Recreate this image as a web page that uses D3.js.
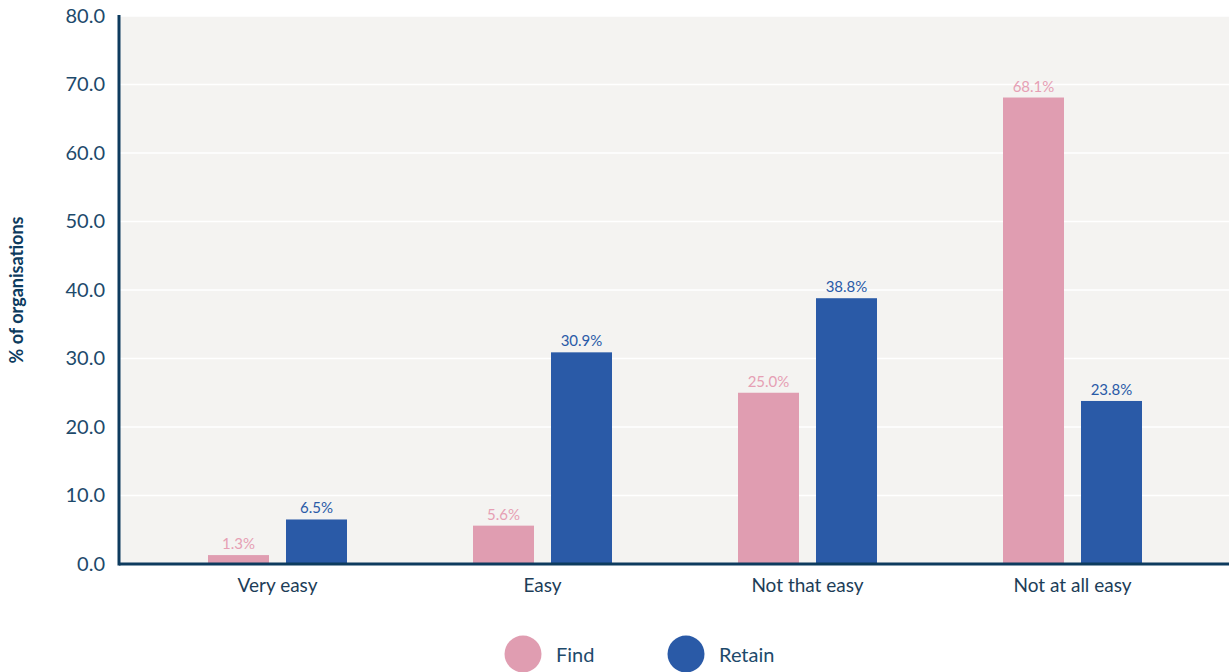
<!DOCTYPE html>
<html>
<head>
<meta charset="utf-8">
<script src="https://cdn.jsdelivr.net/npm/d3@7"></script>
<style>
	body { margin: 0; background: #fff; }
	text { font-family: 'Lato', 'DejaVu Sans', sans-serif; }
</style>
</head>
<body>
<div id="chart"></div>
<script>
var categories  =   ['Very easy', 'Easy', 'Not that easy', 'Not at all easy'];
var series      =   ['Find', 'Retain'];
var find_vals   =   [1.3, 5.6, 25.0, 68.1];
var retain_vals =   [6.5, 30.9, 38.8, 23.8];
var y_ticks     =   [0, 10, 20, 30, 40, 50, 60, 70, 80];
var colors      =   { Find: '#e09db1', Retain: '#2a5aa7' };
var label_colors =  { Find: '#e69fb4', Retain: '#2a5aa7' };

// Create SVG Element
var chart_width     =   1229;
var chart_height    =   672;
var plot_left       =   119;
var plot_top        =   16;
var plot_bottom     =   564;
var svg             =   d3.select( '#chart' )
	.append( 'svg' )
	.attr( 'width', chart_width )
	.attr( 'height', chart_height );

// scales
var x_scale = d3.scaleBand()
	.domain( categories )
	.range([145, 1205])
	.padding(0);

var x_inner = d3.scaleBand()
	.domain( series )
	.range([63, 202])
	.paddingInner(17 / 78)
	.paddingOuter(0);

var y_scale = d3.scaleLinear()
	.domain([0, 80])
	.range([plot_bottom, plot_top]);

// background
svg.append( 'rect' )
	.attr( 'x', plot_left )
	.attr( 'y', plot_top )
	.attr( 'width', chart_width - plot_left )
	.attr( 'height', plot_bottom - plot_top )
	.attr( 'fill', '#f4f3f1' );

// grid lines
svg.selectAll( '.grid' )
	.data( y_ticks.slice(1) )
	.enter()
	.append( 'line' )
	.attr( 'class', 'grid' )
	.attr( 'x1', plot_left )
	.attr( 'x2', chart_width )
	.attr( 'y1', function(d){ return y_scale(d); } )
	.attr( 'y2', function(d){ return y_scale(d); } )
	.attr( 'stroke', '#ffffff' )
	.attr( 'stroke-width', 1.5 );

// bars
var rows = categories.map(function( c, i ){
	return [
		{ cat: c, key: 'Find', value: find_vals[i] },
		{ cat: c, key: 'Retain', value: retain_vals[i] }
	];
});

var groups = svg.selectAll( '.group' )
	.data( rows )
	.enter()
	.append( 'g' )
	.attr( 'class', 'group' )
	.attr( 'transform', function( d ){
		return 'translate(' + x_scale(d[0].cat) + ',0)';
	});

groups.selectAll( 'rect' )
	.data(function( d ){ return d; })
	.enter()
	.append( 'rect' )
	.attr( 'x', function( d ){ return x_inner(d.key); } )
	.attr( 'y', function( d ){ return y_scale(d.value); } )
	.attr( 'width', x_inner.bandwidth() )
	.attr( 'height', function( d ){ return plot_bottom - y_scale(d.value); } )
	.attr( 'fill', function( d ){ return colors[d.key]; } );

groups.selectAll( 'text' )
	.data(function( d ){ return d; })
	.enter()
	.append( 'text' )
	.text(function( d ){ return d.value.toFixed(1) + '%'; })
	.attr( 'x', function( d ){ return x_inner(d.key) + x_inner.bandwidth() / 2; } )
	.attr( 'y', function( d ){ return y_scale(d.value) - 6; } )
	.attr( 'font-size', 15 )
	.attr( 'fill', function( d ){ return label_colors[d.key]; } )
	.attr( 'text-anchor', 'middle' );

// y axis
var y_axis = d3.axisLeft( y_scale )
	.tickValues( y_ticks )
	.tickSize(0)
	.tickPadding(14)
	.tickFormat( d3.format('.1f') );

var y_g = svg.append( 'g' )
	.attr( 'transform', 'translate(' + plot_left + ',0)' )
	.call( y_axis );
y_g.select( '.domain' ).remove();
y_g.selectAll( 'text' )
	.attr( 'font-size', 20 )
	.attr( 'fill', '#1d4a6b' )
	.style( 'font-family', "'Lato', sans-serif" );

// x axis
var x_axis = d3.axisBottom( x_scale )
	.tickSize(0)
	.tickPadding(15);

var x_g = svg.append( 'g' )
	.attr( 'transform', 'translate(0,' + plot_bottom + ')' )
	.call( x_axis );
x_g.select( '.domain' ).remove();
x_g.selectAll( 'text' )
	.attr( 'font-size', 19 )
	.attr( 'fill', '#1d3d58' )
	.style( 'font-family', "'Lato', sans-serif" );

// axis lines
svg.append( 'line' )
	.attr( 'x1', plot_left ).attr( 'x2', plot_left )
	.attr( 'y1', plot_top - 1 ).attr( 'y2', plot_bottom + 1.5 )
	.attr( 'stroke', '#0d3b5e' )
	.attr( 'stroke-width', 3 );

svg.append( 'line' )
	.attr( 'x1', plot_left ).attr( 'x2', chart_width )
	.attr( 'y1', plot_bottom ).attr( 'y2', plot_bottom )
	.attr( 'stroke', '#0d3b5e' )
	.attr( 'stroke-width', 3 );

// y title
svg.append( 'text' )
	.text( '% of organisations' )
	.attr( 'transform', 'translate(23,' + ((plot_top + plot_bottom) / 2) + ') rotate(-90)' )
	.attr( 'text-anchor', 'middle' )
	.attr( 'font-size', 18 )
	.attr( 'font-weight', 'bold' )
	.attr( 'fill', '#0d3b5e' );

// legend
var legend_x = [523, 686];
var legend = svg.selectAll( '.legend' )
	.data( series )
	.enter()
	.append( 'g' )
	.attr( 'class', 'legend' )
	.attr( 'transform', function( d, i ){
		return 'translate(' + legend_x[i] + ',654)';
	});

legend.append( 'circle' )
	.attr( 'r', 18.5 )
	.attr( 'fill', function( d ){ return colors[d]; } );

legend.append( 'text' )
	.text(function( d ){ return d; })
	.attr( 'x', 33 )
	.attr( 'y', 8 )
	.attr( 'font-size', 20 )
	.attr( 'fill', '#1d4a6b' );
</script>
</body>
</html>
